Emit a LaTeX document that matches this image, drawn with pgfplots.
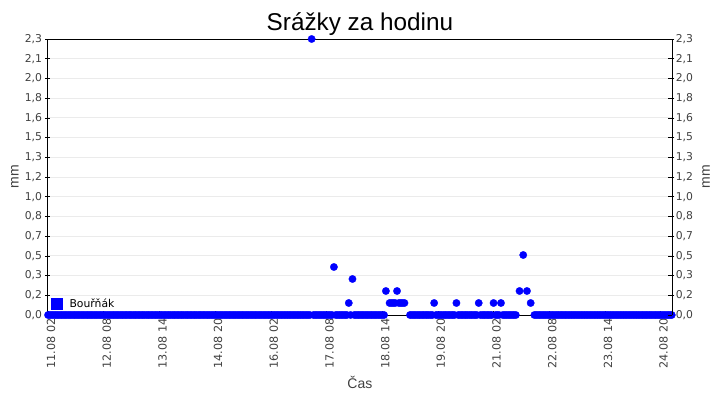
\documentclass[border=0pt]{standalone}
\usepackage{fontspec}
\setmainfont{Liberation Sans}
\newfontfamily\tickfont{DejaVu Sans}
\usepackage{pgfplots}
\pgfplotsset{compat=1.18}

\definecolor{txt}{HTML}{404040}
\definecolor{gridc}{HTML}{EBEBEB}
\definecolor{ptblue}{HTML}{0000FF}

% hourly rain, x = hours since 11.08 00:00
\pgfplotstableread{
h mm
2 0
3 0
4 0
5 0
6 0
7 0
8 0
9 0
10 0
11 0
12 0
13 0
14 0
15 0
16 0
17 0
18 0
19 0
20 0
21 0
22 0
23 0
24 0
25 0
26 0
27 0
28 0
29 0
30 0
31 0
32 0
33 0
34 0
35 0
36 0
37 0
38 0
39 0
40 0
41 0
42 0
43 0
44 0
45 0
46 0
47 0
48 0
49 0
50 0
51 0
52 0
53 0
54 0
55 0
56 0
57 0
58 0
59 0
60 0
61 0
62 0
63 0
64 0
65 0
66 0
67 0
68 0
69 0
70 0
71 0
72 0
73 0
74 0
75 0
76 0
77 0
78 0
79 0
80 0
81 0
82 0
83 0
84 0
85 0
86 0
87 0
88 0
89 0
90 0
91 0
92 0
93 0
94 0
95 0
96 0
97 0
98 0
99 0
100 0
101 0
102 0
103 0
104 0
105 0
106 0
107 0
108 0
109 0
110 0
111 0
112 0
113 0
114 0
115 0
116 0
117 0
118 0
119 0
120 0
121 0
122 0
123 0
124 0
125 0
126 0
127 0
128 0
129 0
130 0
131 0
132 0
133 0
134 0
135 0
136 0
137 0
138 0
139 0
140 0
141 0
142 0
143 0
144 2.3
145 0
146 0
147 0
148 0
149 0
150 0
151 0
152 0
153 0
154 0
155 0
156 0.4
157 0
158 0
159 0
160 0
161 0
162 0
163 0
164 0.1
165 0
166 0.3
167 0
168 0
169 0
170 0
171 0
172 0
173 0
174 0
175 0
176 0
177 0
178 0
179 0
180 0
181 0
182 0
183 0
184 0.2
186 0.1
187 0.1
188 0.1
189 0.1
190 0.2
191 0.1
192 0.1
193 0.1
194 0.1
197 0
198 0
199 0
200 0
201 0
202 0
203 0
204 0
205 0
206 0
207 0
208 0
209 0
210 0.1
211 0
212 0
213 0
214 0
215 0
216 0
217 0
218 0
219 0
220 0
221 0
222 0.1
223 0
224 0
225 0
226 0
227 0
228 0
229 0
230 0
231 0
232 0
233 0
234 0.1
235 0
236 0
237 0
238 0
239 0
240 0
241 0
242 0.1
243 0
244 0
245 0
246 0.1
247 0
248 0
249 0
250 0
251 0
252 0
253 0
254 0
256 0.2
258 0.5
260 0.2
262 0.1
264 0
265 0
266 0
267 0
268 0
269 0
270 0
271 0
272 0
273 0
274 0
275 0
276 0
277 0
278 0
279 0
280 0
281 0
282 0
283 0
284 0
285 0
286 0
287 0
288 0
289 0
290 0
291 0
292 0
293 0
294 0
295 0
296 0
297 0
298 0
299 0
300 0
301 0
302 0
303 0
304 0
305 0
306 0
307 0
308 0
309 0
310 0
311 0
312 0
313 0
314 0
315 0
316 0
317 0
318 0
319 0
320 0
321 0
322 0
323 0
324 0
325 0
326 0
327 0
328 0
329 0
330 0
331 0
332 0
333 0
334 0
335 0
336 0
337 0
338 0
}\rain

\pgfplotsset{
  common/.style={
    at={(47.5bp,85bp)}, anchor=south west,
    scale only axis, width=624.8bp, height=276bp,
    xmin=1.7, xmax=338.3, ymin=0, ymax=2.3,
    ytick={0,0.164286,0.328571,0.492857,0.657143,0.821429,0.985714,1.15,1.314286,1.478571,1.642857,1.807143,1.971429,2.135714,2.3},
    yticklabels={{0,0},{0,2},{0,3},{0,5},{0,7},{0,8},{1,0},{1,2},{1,3},{1,5},{1,6},{1,8},{2,0},{2,1},{2,3}},
    yticklabel style={font=\tickfont\fontsize{10.8bp}{12bp}\selectfont, text=txt},
    xticklabel style={font=\tickfont\fontsize{11.2bp}{12bp}\selectfont, text=txt},
    label style={font=\fontsize{14bp}{16bp}\selectfont, text=txt},
    major tick length=4bp,
    tick style={black, line width=0.6bp},
  },
}

\begin{document}
\begin{tikzpicture}
\path[use as bounding box] (0,0) rectangle (720bp,400bp);

\begin{axis}[common,
  axis line style={black, line width=0.8bp},
  xtick={2,32,...,332},
  xticklabels={11.08 02,12.08 08,13.08 14,14.08 20,16.08 02,17.08 08,18.08 14,19.08 20,21.08 02,22.08 08,23.08 14,24.08 20},
  xticklabel style={rotate=90, anchor=east, yshift=-3bp},
  xtick align=inside, xtick pos=bottom,
  ytick align=center, yticklabel pos=left,
  ymajorgrids, major grid style={gridc, line width=0.8bp},
  xlabel={Čas}, ylabel={mm},
  xlabel style={at={(axis description cs:0.5,-0.246)}, anchor=center},
  ylabel style={at={(axis description cs:-0.0523,0.5)}, anchor=center},
  title={Srážky za hodinu},
  title style={at={(axis description cs:0.5,1.033)}, anchor=center,
    font=\fontsize{24.3bp}{27bp}\selectfont, text=black},
  clip=false,
  legend style={at={(axis description cs:0.004,0.012)}, anchor=south west,
    draw=none, fill=none, font=\tickfont\fontsize{10.8bp}{12bp}\selectfont,
    text=black, inner sep=1bp, /tikz/column sep=5bp},
  legend image code/.code={\fill[ptblue] (0bp,-5.5bp) rectangle (11bp,5.5bp);},
]
\addplot[only marks, mark=*, mark size=3.7bp,
  mark options={fill=ptblue, draw=ptblue, line width=0.3bp}] table[x=h, y=mm] {\rain};
\addlegendentry{Bouřňák}
\end{axis}

\begin{axis}[common,
  hide x axis, axis y line*=right,
  axis line style={black, line width=0.8bp},
  yticklabel pos=right, ytick align=inside,
  ylabel={mm},
  ylabel style={at={(axis description cs:1.054,0.5)}, anchor=center, rotate=0},
]
\addplot[draw=none] coordinates {(2,0)};
\end{axis}
\end{tikzpicture}
\end{document}
